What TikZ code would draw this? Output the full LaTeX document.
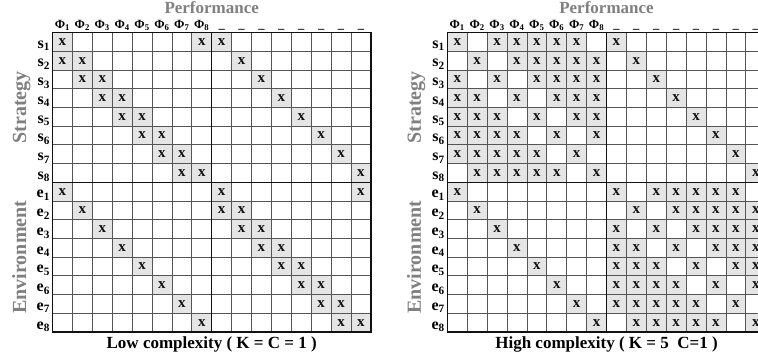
\documentclass[tikz,border=0pt]{standalone}
\usepackage{fontspec}
\setmainfont{Liberation Serif}
\usepackage{tikz}
\usetikzlibrary{positioning}
\definecolor{dsmink}{HTML}{111111}
\definecolor{dsmline}{HTML}{555555}
\definecolor{dsmshade}{HTML}{E5E5E5}
\definecolor{dsmgray}{HTML}{808080}
\tikzset{
  xmark/.style={font=\fontsize{15}{15}\selectfont\bfseries,text=dsmink,inner sep=0pt},
  gridline/.style={draw=dsmline,line width=0.8pt},
  frameline/.style={draw=dsmink,line width=1.5pt},
  colhead/.style={font=\fontsize{12.5}{13}\selectfont\bfseries,inner sep=0pt,anchor=base},
  rowhead/.style={font=\fontsize{16}{16}\selectfont\bfseries,inner sep=0pt,anchor=base east},
  sidehead/.style={font=\fontsize{20}{20}\selectfont\bfseries,text=dsmgray,inner sep=0pt,rotate=90,anchor=base},
  tophead/.style={font=\fontsize{17}{17}\selectfont\bfseries,text=dsmgray,inner sep=0pt,anchor=base},
  captext/.style={font=\fontsize{17}{17}\selectfont\bfseries,inner sep=0pt,anchor=base}
}
% one marked cell: prefix, column, row
\newcommand{\dsmx}[3]{%
  \fill[dsmshade] (#2-1,#3-1) rectangle (#2,#3);
  \node[xmark] (#1x#2y#3) at (#2-0.5,#3-0.5) {x};}
% grid, frame and labels of one matrix: prefix, caption
\newcommand{\dsmframe}[2]{%
  \foreach \k in {1,...,15} {
    \draw[gridline] (\k,0) -- (\k,16);
    \draw[gridline] (0,\k) -- (16,\k);
  }
  \draw[frameline] (0,0) rectangle (16,16) (8,0) -- (8,16) (0,8) -- (16,8);
  \foreach \k in {1,...,8} {
    \pgfmathtruncatemacro\kk{\k+8}
    \node[colhead] (#1phi\k) at (\k-0.5,-0.22) {Φ\textsubscript{\k}};
    \node[colhead] (#1nil\k) at (\kk-0.5,-0.22) {\_};
    \node[rowhead] (#1s\k) at (-0.12,\k-0.16) {s\textsubscript{\k}};
    \node[rowhead] (#1e\k) at (-0.12,\kk-0.16) {e\textsubscript{\k}};
  }
  \node[tophead] (#1perf) at (8,-1.02) {Performance};
  \node[sidehead] (#1strat) at (-1.33,4) {Strategy};
  \node[sidehead] (#1env) at (-1.33,12) {Environment};
  \node[captext] (#1cap) at (8,16.88) {#2};
}

\begin{document}
\begin{tikzpicture}[x=1pt,y=-1pt]
\useasboundingbox (0,0) rectangle (758,360);
\fill[white] (0,0) rectangle (758,360);
\clip (0,0) rectangle (758,360);
% low complexity
\begin{scope}[shift={(52.5,32.5)},x=19.9pt,y=-18.72pt]
  \foreach \i in {1,...,8} {
    \pgfmathtruncatemacro\p{mod(\i+6,8)+1}
    \pgfmathtruncatemacro\q{\i+8}
    \pgfmathtruncatemacro\r{\p+8}
    \dsmx{L}{\i}{\i}
    \dsmx{L}{\p}{\i}
    \dsmx{L}{\q}{\i}
    \dsmx{L}{\i}{\q}
    \dsmx{L}{\q}{\q}
    \dsmx{L}{\r}{\q}
  }
  \dsmframe{L}{Low complexity ( K = C = 1 )}
\end{scope}
% high complexity
\begin{scope}[shift={(447.3,32.5)},x=19.9pt,y=-18.72pt]
  \foreach \i in {1,...,8} {
    \pgfmathtruncatemacro\q{\i+8}
    \dsmx{R}{\q}{\i}
    \dsmx{R}{\i}{\q}
    \foreach \j in {1,...,8} {
      \pgfmathtruncatemacro\dd{mod(\j-\i+8,8)}
      \pgfmathtruncatemacro\cc{\j+8}
      \ifnum\dd=1 \else\ifnum\dd=7 \else
        \dsmx{R}{\j}{\i}
        \dsmx{R}{\cc}{\q}
      \fi\fi
    }
  }
  \dsmframe{R}{High complexity ( K = 5\ \ C=1 )}
\end{scope}
\end{tikzpicture}
\end{document}
